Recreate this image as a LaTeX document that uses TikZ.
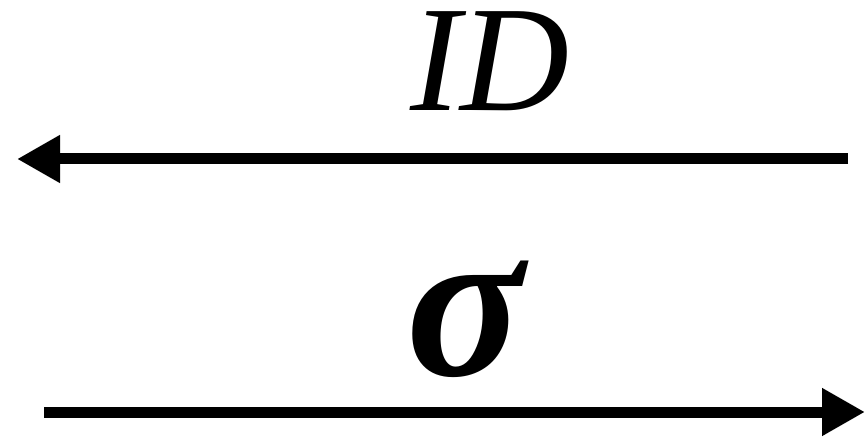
\documentclass[tikz,border=0pt]{standalone}
\usepackage{fontspec}
\newfontfamily\tnr{Liberation Serif}
\usetikzlibrary{arrows.meta}
\begin{document}
\begin{tikzpicture}[x=1pt,y=-1pt,
  conn/.style={line width=11pt,-{Triangle[length=43pt,width=45pt]}},
  lbl/.style={inner sep=0pt,text height=100pt,text depth=0pt}]
\useasboundingbox (0,0) rectangle (865,438);
\coordinate (a1) at (848,159);
\coordinate (a2) at (17,159);
\coordinate (b1) at (44,412);
\coordinate (b2) at (865,412);
\draw[conn] (a1) -- (a2);
\draw[conn] (b1) -- (b2);
\node[lbl,anchor=base,font=\fontsize{151}{151}\tnr\itshape] (id) at (490,111) {ID};
\node[lbl,anchor=base west,font=\fontsize{218}{218}\tnr\bfseries\itshape] (sig) at (406,375) {σ};
\end{tikzpicture}
\end{document}
